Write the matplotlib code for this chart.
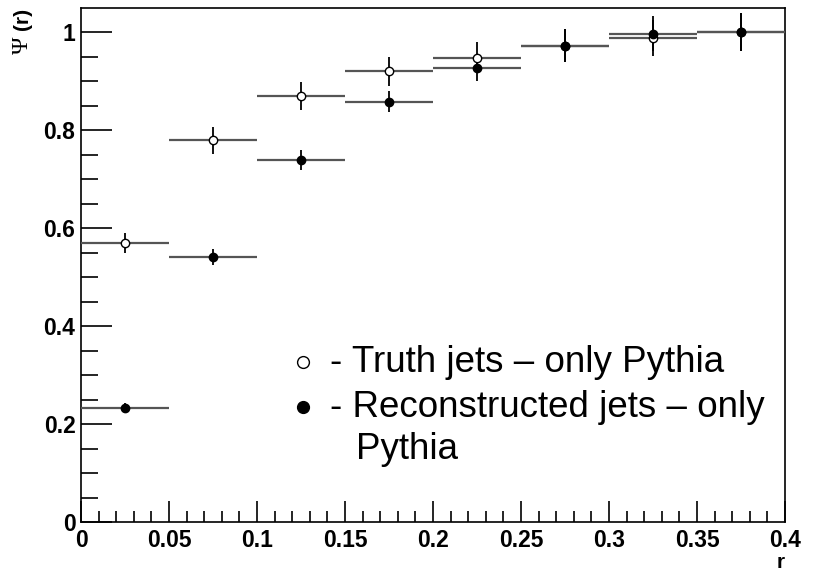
import numpy as np
import matplotlib.pyplot as plt
from matplotlib.ticker import MultipleLocator

# bin centres in r and half bin width
r = [0.025, 0.075, 0.125, 0.175, 0.225, 0.275, 0.325, 0.375]
half_bin = 0.025

# integrated jet shape, truth jets (open circles)
psi_truth = [0.569, 0.779, 0.869, 0.920, 0.948, 0.972, 0.988, 1.0]
err_truth = [0.021, 0.027, 0.029, 0.030, 0.032, 0.034, 0.036, 0.039]

# integrated jet shape, reconstructed jets (full circles)
psi_reco = [0.232, 0.541, 0.739, 0.858, 0.926, 0.972, 0.997, 1.0]
err_reco = [0.010, 0.017, 0.020, 0.022, 0.025, 0.034, 0.036, 0.039]

plt.rcParams['font.family'] = ['Liberation Sans', 'DejaVu Sans']

fig = plt.figure(figsize=(8.16, 5.73), dpi=100)
ax = fig.add_axes([0.0993, 0.089, 0.8627, 0.897])


def draw_points(y, yerr, face):
    eb = ax.errorbar(r, y, xerr=half_bin, yerr=yerr, fmt='o', ms=6,
                     mfc=face, mec='black', mew=1.0, ecolor='black',
                     elinewidth=1.3, capsize=0, zorder=3)
    # horizontal bin-width bars come out lighter
    eb[2][0].set_color('#555555')
    eb[2][0].set_linewidth(1.6)


draw_points(psi_truth, err_truth, 'white')
draw_points(psi_reco, err_reco, 'black')

ax.set_xlim(0, 0.4)
ax.set_ylim(0, 1.049)

ax.xaxis.set_minor_locator(MultipleLocator(0.01))
ax.yaxis.set_minor_locator(MultipleLocator(0.05))
ax.set_xticks(np.arange(0, 0.401, 0.05))
ax.set_xticklabels(['0', '0.05', '0.1', '0.15', '0.2', '0.25', '0.3', '0.35', '0.4'])
ax.set_yticks(np.arange(0, 1.01, 0.2))
ax.set_yticklabels(['0', '0.2', '0.4', '0.6', '0.8', '1'])

ax.tick_params(axis='x', which='major', direction='in', length=15, width=1.2,
               labelsize=16.5, pad=5, top=False)
ax.tick_params(axis='x', which='minor', direction='in', length=8, width=1.2, top=False)
ax.tick_params(axis='y', which='major', direction='in', length=22, width=1.2,
               labelsize=16.5, pad=4, right=False)
ax.tick_params(axis='y', which='minor', direction='in', length=12, width=1.2, right=False)
for lab in ax.get_xticklabels() + ax.get_yticklabels():
    lab.set_fontweight('bold')
for s in ax.spines.values():
    s.set_linewidth(1.2)

# axis titles
fig.text(0.962, 0.008, 'r', ha='right', va='baseline', fontsize=15, fontweight='bold')
fig.text(0.028, 0.986, '(r)', ha='center', va='top', rotation=90,
         fontsize=15, fontweight='bold')
fig.text(0.027, 0.936, 'Ψ', ha='center', va='top', rotation=90,
         fontsize=17, family=['Liberation Serif', 'DejaVu Serif'])

# hand-placed legend
ax.plot([0.1261], [0.3265], 'o', ms=8.5, mfc='white', mec='black', mew=1.0,
        clip_on=False)
ax.plot([0.1261], [0.2337], 'o', ms=8.5, mfc='black', mec='black', mew=1.0,
        clip_on=False)
ax.text(0.1415, 0.3265, '- Truth jets – only Pythia', fontsize=26.5, va='center')
ax.text(0.1415, 0.2337, '- Reconstructed jets – only', fontsize=26.5, va='center')
ax.text(0.1565, 0.147, 'Pythia', fontsize=26.5, va='center')

fig.savefig('out.png', dpi=100)
